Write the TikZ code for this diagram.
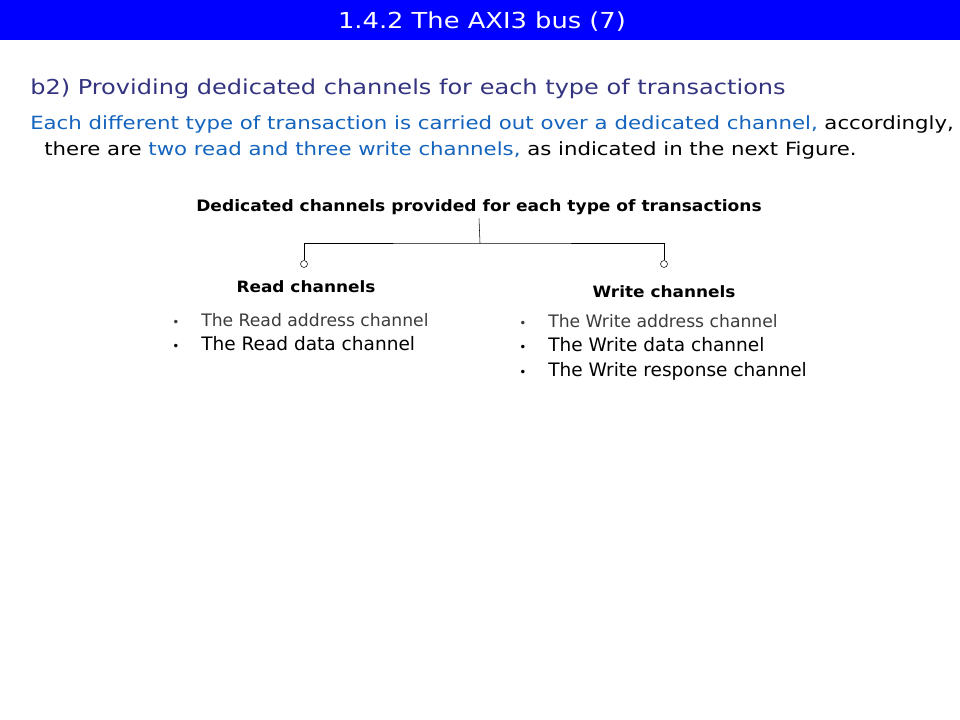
\documentclass[tikz,border=0pt]{standalone}
\usepackage{fontspec}
\setmainfont{DejaVu Sans}
\newfontfamily\widefont[FakeStretch=1.17]{DejaVu Sans}
\newfontfamily\midfont[FakeStretch=1.085]{DejaVu Sans}
\usetikzlibrary{positioning}

\definecolor{barblue}{RGB}{0,0,255}
\definecolor{navy}{RGB}{51,51,128}
\definecolor{linkblue}{RGB}{20,100,190}
\definecolor{softgray}{RGB}{60,60,60}

\tikzset{
  txt/.style={inner sep=0pt, anchor=base west},
  bold/.style={inner sep=0pt, anchor=base, font=\midfont\fontsize{11.8}{13}\selectfont\bfseries},
  knob/.style={circle, draw, inner sep=0pt, minimum size=5.25pt, fill=white}
}

\newcommand{\itm}[1]{\makebox[21.75pt][l]{\fontsize{9}{9}\selectfont\textbullet}#1}

\begin{document}
\begin{tikzpicture}[x=0.75pt,y=-0.75pt]
    \useasboundingbox (0,0) rectangle (960,720);
    \fill[white] (0,0) rectangle (960,720);
    % Title bar
    \fill[barblue] (0,0) rectangle (960,40);
    \node[inner sep=0pt, anchor=base, text=white, font=\widefont\fontsize{16.5}{18}\selectfont] (title) at (482,29) {1.4.2 The AXI3 bus (7)};

    % Heading and paragraph
    \node[txt, text=navy, font=\widefont\fontsize{15.4}{18}\selectfont] (sub) at (30,95) {b2) Providing dedicated channels for each type of transactions};
    \node[txt, font=\widefont\fontsize{13.63}{16}\selectfont] (para1) at (30,130) {\textcolor{linkblue}{Each different type of transaction is carried out over a dedicated channel,} accordingly,};
    \node[txt, font=\widefont\fontsize{13.63}{16}\selectfont] (para2) at (44,156) {there are \textcolor{linkblue}{two read and three write channels,} as indicated in the next Figure.};

    % Tree
    \node[bold] (head) at (479,212) {Dedicated channels provided for each type of transactions};
    \coordinate (stem) at (480,243);
    \node[knob] (lo) at (304,264) {};
    \node[knob] (ro) at (664,264) {};
    \draw (head.south) ++(0,-2pt) -- (stem);
    \draw (lo.north) |- (stem) -| (ro.north);

    \node[bold, font=\midfont\fontsize{11.7}{13}\selectfont\bfseries] (read) at (306,292) {Read channels};
    \node[bold, font=\midfont\fontsize{11.7}{13}\selectfont\bfseries] (write) at (664,297) {Write channels};

    % Read list
    \node[txt, text=softgray, font=\fontsize{12.9}{14}\selectfont] (ra) at (172,326) {\itm{The Read address channel}};
    \node[txt, font=\fontsize{13.9}{15}\selectfont] (rd) at (172,350) {\itm{The Read data channel}};

    % Write list
    \node[txt, text=softgray, font=\fontsize{12.9}{14}\selectfont] (wa) at (519,327) {\itm{The Write address channel}};
    \node[txt, font=\fontsize{13.9}{15}\selectfont] (wd) at (519,351) {\itm{The Write data channel}};
    \node[txt, font=\fontsize{13.9}{15}\selectfont] (wr) at (519,376) {\itm{The Write response channel}};
\end{tikzpicture}
\end{document}
